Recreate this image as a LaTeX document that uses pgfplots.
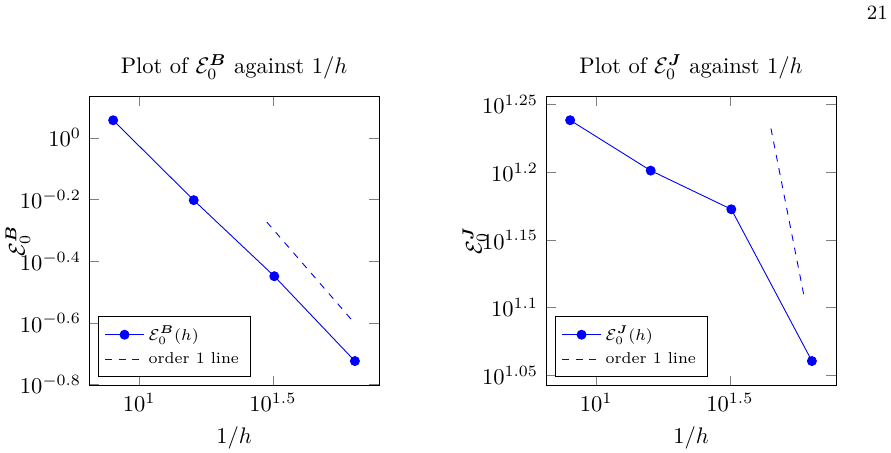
\documentclass[border=0pt]{standalone}
\usepackage{amsmath}
\usepackage{pgfplots}
\pgfplotsset{compat=1.18}

\pgfplotsset{
  convplot/.style={
    scale only axis,
    width=128.8pt, height=128.3pt,
    xlabel={$1/h$},
    ylabel style={at={(axis description cs:-0.245,0.5)}, anchor=center},
    title style={yshift=-2pt},
    legend pos=south west,
    legend style={font=\scriptsize, legend cell align=left},
  }
}

\begin{document}
\begin{tikzpicture}
\useasboundingbox (0,0) rectangle (395.6pt,200.7pt);
\node[font=\small] at (389.5pt,194.9pt) {21};

% error in the B-norm
\begin{loglogaxis}[convplot, at={(39.5pt,29.7pt)}, anchor=south west,
  ytick={1,0.630957,0.398107,0.251189,0.158489},
  title={Plot of $\mathcal{E}_0^{\boldsymbol{B}}$ against $1/h$},
  ylabel={$\mathcal{E}_0^{\boldsymbol{B}}$}]
\addplot[blue, mark=*] coordinates {
  (8,1.14) (16,0.628) (32,0.356) (64,0.189)};
\addlegendentry{$\mathcal{E}_0^{\boldsymbol{B}}(h)$}
\addplot[blue, dashed] coordinates {(30,0.5333) (64,0.25)};
\addlegendentry{order 1 line}
\end{loglogaxis}

% error in the J-norm
\begin{loglogaxis}[convplot, at={(242.4pt,29.7pt)}, anchor=south west,
  ytick={11.22018,12.58925,14.12538,15.84893,17.78279},
  title={Plot of $\mathcal{E}_0^{\boldsymbol{J}}$ against $1/h$},
  ylabel={$\mathcal{E}_0^{\boldsymbol{J}}$}]
\addplot[blue, mark=*] coordinates {
  (8,17.31) (16,15.89) (32,14.88) (64,11.50)};
\addlegendentry{$\mathcal{E}_0^{\boldsymbol{J}}(h)$}
\addplot[blue, dashed] coordinates {(45,17.07) (60,12.80)};
\addlegendentry{order 1 line}
\end{loglogaxis}
\end{tikzpicture}
\end{document}
